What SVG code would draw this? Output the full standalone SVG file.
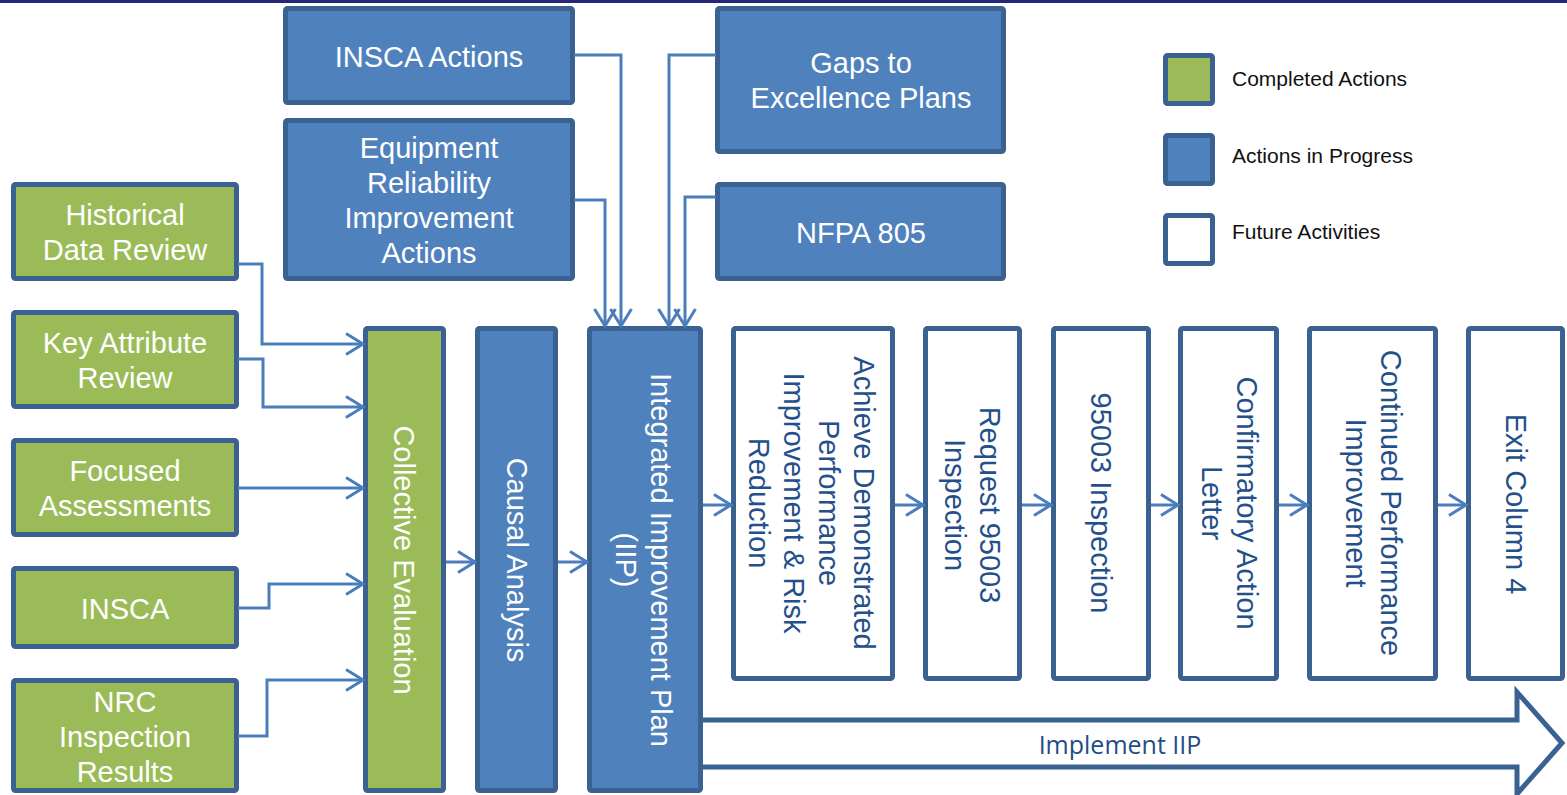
<svg xmlns="http://www.w3.org/2000/svg" width="1567" height="795" viewBox="0 0 1567 795">
<style>
.box{stroke:#3a6191;stroke-width:5}
.g{fill:#9bbb59}
.b{fill:#4f81bd}
.w{fill:#ffffff}
.t{font-family:"Liberation Sans",Arial,sans-serif;font-size:29px;text-anchor:middle}
.tw{fill:#ffffff}
.td{fill:#23508a}
.lg{font-family:"Liberation Sans",Arial,sans-serif;font-size:21px;fill:#111111}
.c{fill:none;stroke:#4a7ebb;stroke-width:3;marker-end:url(#ah)}
</style>
<defs>
<marker id="ah" markerUnits="userSpaceOnUse" viewBox="-20 -12 24 24" markerWidth="24" markerHeight="24" refX="0" refY="0" orient="auto" overflow="visible">
<path d="M -17 -10.5 L 0 0 L -17 10.5" fill="none" stroke="#4a7ebb" stroke-width="3"/>
</marker>
</defs>
<rect x="0" y="0" width="1567" height="795" fill="#ffffff"/>
<rect x="0" y="0" width="1567" height="3" fill="#25287a"/>

<g id="implement-iip">
<path d="M 698 720 H 1517 V 692 L 1562 743 L 1517 794 V 767 H 698" fill="#ffffff" stroke="#3a6191" stroke-width="5"/>
<text x="1120" y="754" style="font-family:'Open Sans','Noto Sans',sans-serif;font-size:25px;fill:#1f4e84;text-anchor:middle">Implement IIP</text>
</g>

<g id="insca-actions"><rect class="box b" x="285.5" y="8.5" width="287" height="94" rx="2"/><text class="t tw" x="429" y="67">INSCA Actions</text></g>
<g id="equipment-reliability"><rect class="box b" x="285.5" y="120.5" width="287" height="158" rx="2"/>
<text class="t tw" x="429" y="158">Equipment</text><text class="t tw" x="429" y="193">Reliability</text><text class="t tw" x="429" y="228">Improvement</text><text class="t tw" x="429" y="263">Actions</text></g>
<g id="gaps-to-excellence"><rect class="box b" x="717.5" y="8.5" width="286" height="143" rx="2"/>
<text class="t tw" x="861" y="73">Gaps to</text><text class="t tw" x="861" y="108">Excellence Plans</text></g>
<g id="nfpa-805"><rect class="box b" x="717.5" y="184.5" width="286" height="94" rx="2"/><text class="t tw" x="861" y="243">NFPA 805</text></g>

<g id="historical-data-review"><rect class="box g" x="13.5" y="184.5" width="223" height="94" rx="2"/>
<text class="t tw" x="125" y="225">Historical</text><text class="t tw" x="125" y="260">Data Review</text></g>
<g id="key-attribute-review"><rect class="box g" x="13.5" y="312.5" width="223" height="94" rx="2"/>
<text class="t tw" x="125" y="353">Key Attribute</text><text class="t tw" x="125" y="388">Review</text></g>
<g id="focused-assessments"><rect class="box g" x="13.5" y="440.5" width="223" height="94" rx="2"/>
<text class="t tw" x="125" y="481">Focused</text><text class="t tw" x="125" y="516">Assessments</text></g>
<g id="insca"><rect class="box g" x="13.5" y="568.5" width="223" height="78" rx="2"/><text class="t tw" x="125" y="619">INSCA</text></g>
<g id="nrc-inspection-results"><rect class="box g" x="13.5" y="680.5" width="223" height="110" rx="2"/>
<text class="t tw" x="125" y="712">NRC</text><text class="t tw" x="125" y="747">Inspection</text><text class="t tw" x="125" y="782">Results</text></g>

<g id="collective-evaluation"><rect class="box g" x="365.5" y="328.5" width="78" height="462" rx="2"/>
<text class="t tw" transform="translate(404,560) rotate(90)" x="0" y="10">Collective Evaluation</text></g>
<g id="causal-analysis"><rect class="box b" x="477.5" y="328.5" width="78" height="462" rx="2"/>
<text class="t tw" transform="translate(517,560) rotate(90)" x="0" y="10">Causal Analysis</text></g>
<g id="iip"><rect class="box b" x="589.5" y="328.5" width="111" height="462" rx="2"/>
<text class="t tw" transform="translate(661,560) rotate(90)" x="0" y="10">Integrated Improvement Plan</text>
<text class="t tw" transform="translate(626,560) rotate(90)" x="0" y="10">(IIP)</text></g>

<g id="achieve"><rect class="box w" x="733.5" y="328.5" width="159" height="350" rx="2"/>
<text class="t td" transform="translate(864,503) rotate(90)" x="0" y="10">Achieve Demonstrated</text>
<text class="t td" transform="translate(829,503) rotate(90)" x="0" y="10">Performance</text>
<text class="t td" transform="translate(794,503) rotate(90)" x="0" y="10">Improvement &amp; Risk</text>
<text class="t td" transform="translate(759,503) rotate(90)" x="0" y="10">Reduction</text></g>
<g id="request-95003"><rect class="box w" x="925.5" y="328.5" width="94" height="350" rx="2"/>
<text class="t td" transform="translate(990,505) rotate(90)" x="0" y="10">Request 95003</text>
<text class="t td" transform="translate(955,505) rotate(90)" x="0" y="10">Inspection</text></g>
<g id="inspection-95003"><rect class="box w" x="1053.5" y="328.5" width="95" height="350" rx="2"/>
<text class="t td" transform="translate(1101,503) rotate(90)" x="0" y="10">95003 Inspection</text></g>
<g id="confirmatory-action-letter"><rect class="box w" x="1180.5" y="328.5" width="96" height="350" rx="2"/>
<text class="t td" transform="translate(1247,503) rotate(90)" x="0" y="10">Confirmatory Action</text>
<text class="t td" transform="translate(1212,503) rotate(90)" x="0" y="10">Letter</text></g>
<g id="continued-performance"><rect class="box w" x="1309.5" y="328.5" width="126" height="350" rx="2"/>
<text class="t td" transform="translate(1391,503) rotate(90)" x="0" y="10">Continued Performance</text>
<text class="t td" transform="translate(1356,503) rotate(90)" x="0" y="10">Improvement</text></g>
<g id="exit-column-4"><rect class="box w" x="1468.5" y="328.5" width="94" height="350" rx="2"/>
<text class="t td" transform="translate(1516,504) rotate(90)" x="0" y="10">Exit Column 4</text></g>

<g id="legend">
<rect class="box g" x="1165.5" y="55.5" width="47" height="48" rx="2"/>
<text class="lg" x="1232" y="86">Completed Actions</text>
<rect class="box b" x="1165.5" y="135.5" width="47" height="48" rx="2"/>
<text class="lg" x="1232" y="163">Actions in Progress</text>
<rect class="box w" x="1165.5" y="215.5" width="47" height="48" rx="2"/>
<text class="lg" x="1232" y="239">Future Activities</text>
</g>

<g id="connectors">
<path class="c" d="M 238 264 H 262 V 344 H 363"/>
<path class="c" d="M 238 359 H 263 V 407 H 363"/>
<path class="c" d="M 238 488 H 363"/>
<path class="c" d="M 238 608 H 269 V 584 H 363"/>
<path class="c" d="M 238 736 H 267 V 680 H 363"/>
<path class="c" d="M 446 562 H 475"/>
<path class="c" d="M 558 562 H 587"/>
<path class="c" d="M 574 55 H 621 V 326"/>
<path class="c" d="M 574 200 H 605 V 326"/>
<path class="c" d="M 716 55 H 669 V 326"/>
<path class="c" d="M 716 197 H 685 V 326"/>
<path class="c" d="M 703 505 H 731"/>
<path class="c" d="M 895 505 H 923"/>
<path class="c" d="M 1022 505 H 1051"/>
<path class="c" d="M 1151 505 H 1178"/>
<path class="c" d="M 1279 505 H 1307"/>
<path class="c" d="M 1438 505 H 1466"/>
</g>
</svg>
